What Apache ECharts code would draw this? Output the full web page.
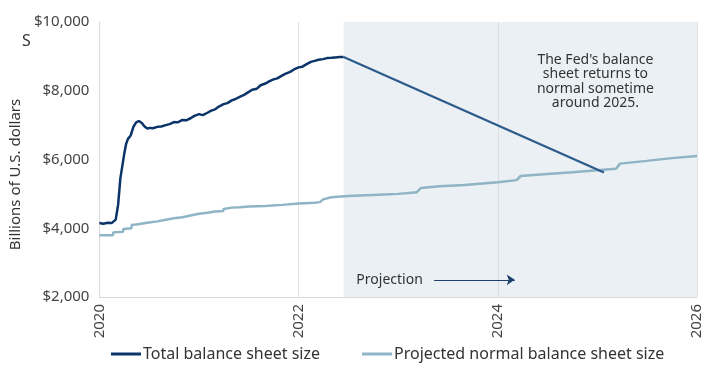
<!DOCTYPE html>
<html>
<head>
<meta charset="utf-8">
<script src="https://cdn.jsdelivr.net/npm/echarts@6/dist/echarts.min.js"></script>
<style>html,body{margin:0;padding:0;background:#fff}#c{width:712px;height:370px}</style>
</head>
<body>
<div id="c"></div>
<script>
// ---- data ----
const totalDates = ['2020-01-01','2020-01-15','2020-02-01','2020-02-15','2020-03-01','2020-03-10','2020-03-18','2020-03-25','2020-04-01','2020-04-08','2020-04-15','2020-04-25','2020-05-05','2020-05-15','2020-05-25','2020-06-05','2020-06-15','2020-06-25','2020-07-05','2020-07-15','2020-08-01','2020-08-15','2020-09-01','2020-09-15','2020-10-01','2020-10-15','2020-11-01','2020-11-15','2020-12-01','2020-12-15','2021-01-01','2021-01-15','2021-02-01','2021-02-15','2021-03-01','2021-03-15','2021-04-01','2021-04-15','2021-05-01','2021-05-15','2021-06-01','2021-06-15','2021-07-01','2021-07-15','2021-08-01','2021-08-15','2021-09-01','2021-09-15','2021-10-01','2021-10-15','2021-11-01','2021-11-15','2021-12-01','2021-12-15','2022-01-01','2022-01-15','2022-02-01','2022-02-15','2022-03-01','2022-03-15','2022-04-01','2022-04-15','2022-05-01','2022-05-15','2022-06-01','2022-06-15'];
const totalValues = [4150,4130,4160,4150,4250,4700,5450,5800,6150,6450,6600,6700,6950,7080,7120,7060,6960,6900,6920,6910,6950,6960,7000,7030,7090,7080,7150,7140,7200,7270,7320,7290,7360,7420,7460,7540,7610,7640,7720,7760,7830,7880,7960,8030,8060,8160,8210,8270,8330,8360,8440,8500,8550,8620,8680,8700,8780,8840,8870,8900,8920,8950,8960,8970,8980,8980];
const projDates = ['2022-06-15','2025-01-25'];
const projValues = [8980,5620];
const normalDates = ['2020-01-01','2020-02-20','2020-02-21','2020-03-28','2020-03-29','2020-04-28','2020-04-29','2020-05-15','2020-06-01','2020-07-01','2020-08-01','2020-09-01','2020-10-01','2020-11-01','2020-12-01','2021-01-01','2021-02-01','2021-03-01','2021-03-31','2021-04-01','2021-05-01','2021-06-01','2021-07-01','2021-09-01','2021-11-01','2022-01-01','2022-03-01','2022-03-20','2022-04-01','2022-05-01','2022-07-01','2022-10-01','2023-01-01','2023-03-10','2023-03-25','2023-06-01','2023-09-01','2024-01-01','2024-03-10','2024-03-25','2024-07-01','2024-10-01','2025-01-01','2025-03-10','2025-03-25','2025-07-01','2025-10-01','2026-01-01'];
const normalValues = [3800,3800,3880,3900,3980,4000,4100,4110,4130,4170,4200,4250,4290,4320,4370,4420,4450,4490,4500,4560,4600,4610,4630,4650,4680,4720,4740,4760,4840,4900,4940,4970,5000,5050,5170,5220,5260,5340,5400,5520,5580,5630,5690,5730,5880,5960,6040,6100];
const yTicks = [2000,4000,6000,8000,10000];
const xTicks = [2020,2022,2024,2026];
const projectionStart = '2022-06-15';
const annotationText = ["The Fed's balance","sheet returns to","normal sometime","around 2025."];
const projectionLabel = 'Projection';
const seriesNames = ['Total balance sheet size','Projected normal balance sheet size'];

function decYear(s){
  const d = Date.parse(s+'T00:00:00Z');
  const y = parseInt(s.slice(0,4),10);
  const a = Date.UTC(y,0,1), b = Date.UTC(y+1,0,1);
  return y + (d-a)/(b-a);
}
const pairs = (ds, vs) => ds.map((d,i)=>[decYear(d), vs[i]]);

const FONT = 'Noto Sans';
const chart = echarts.init(document.getElementById('c'), null, {renderer:'canvas'});
const projX = decYear(projectionStart);

chart.setOption({
  animation:false,
  textStyle:{fontFamily:FONT},
  title:{text:'S', left:17, top:28, textStyle:{fontFamily:FONT,fontSize:16,fontWeight:'normal',color:'#333'}},
  grid:{left:98,right:15,top:22,bottom:73},
  legend:{
    data:seriesNames, left:106, bottom:3, icon:'rect', itemWidth:30, itemHeight:3, itemGap:42,
    textStyle:{fontFamily:FONT,fontSize:16,color:'#333',padding:[0,0,0,-3]}
  },
  xAxis:{
    type:'value', min:xTicks[0], max:xTicks[xTicks.length-1], interval:2,
    axisLine:{show:true,lineStyle:{color:'#d9d9d9'}},
    axisTick:{show:false},
    axisLabel:{rotate:90, margin:7, fontSize:15, color:'#444', formatter:v=>String(v)},
    splitLine:{show:true,lineStyle:{color:'#e2e2e2',width:1}}
  },
  yAxis:{
    type:'value', min:yTicks[0], max:yTicks[yTicks.length-1], interval:2000,
    name:'Billions of U.S. dollars', nameLocation:'middle', nameGap:72,
    nameTextStyle:{fontFamily:FONT,fontSize:15,color:'#333',padding:[0,30,0,0]},
    axisLine:{show:true,lineStyle:{color:'#d9d9d9'}},
    axisTick:{show:false},
    axisLabel:{fontSize:15,color:'#444',margin:10,formatter:v=>'$'+v.toLocaleString('en-US')},
    splitLine:{show:false}
  },
  series:[
    {
      name:'bg', type:'line', data:[], z:1, silent:true,
      markArea:{silent:true, itemStyle:{color:'rgba(195,212,221,0.35)'},
        data:[[{coord:[projX,2000]},{coord:[2026,10440]}]]},
      markLine:{silent:true, symbol:['none','arrow'], symbolSize:[8,8],
        lineStyle:{color:'#1d3f6e',width:1.2,type:'solid'}, label:{show:false},
        data:[[{coord:[2023.36,2500]},{coord:[2024.17,2500]}]]},
      markPoint:{silent:true, symbol:'circle', symbolSize:0,
        data:[
          {coord:[2024.98,8270], label:{show:true,position:'inside',align:'center',verticalAlign:'middle',
            formatter:annotationText.join('\n'), fontFamily:FONT,fontSize:14,lineHeight:14.5,color:'#333'}},
          {coord:[2022.58,2500], label:{show:true,position:'inside',align:'left',verticalAlign:'middle',
            formatter:projectionLabel, fontFamily:FONT,fontSize:14,color:'#333'}}
        ]}
    },
    {
      name:seriesNames[1], type:'line', data:pairs(normalDates,normalValues), showSymbol:false, z:3,
      lineStyle:{color:'#8fb4c6',width:2.5}, itemStyle:{color:'#8fb4c6'}
    },
    {
      name:'proj', type:'line', data:pairs(projDates,projValues), showSymbol:false, z:4,
      lineStyle:{color:'#2b5a8c',width:2.2}, itemStyle:{color:'#2b5a8c'}
    },
    {
      name:seriesNames[0], type:'line', data:pairs(totalDates,totalValues), showSymbol:false, z:5,
      lineStyle:{color:'#0b3469',width:2.5}, itemStyle:{color:'#0b3469'}
    }
  ]
});
</script>
</body>
</html>
